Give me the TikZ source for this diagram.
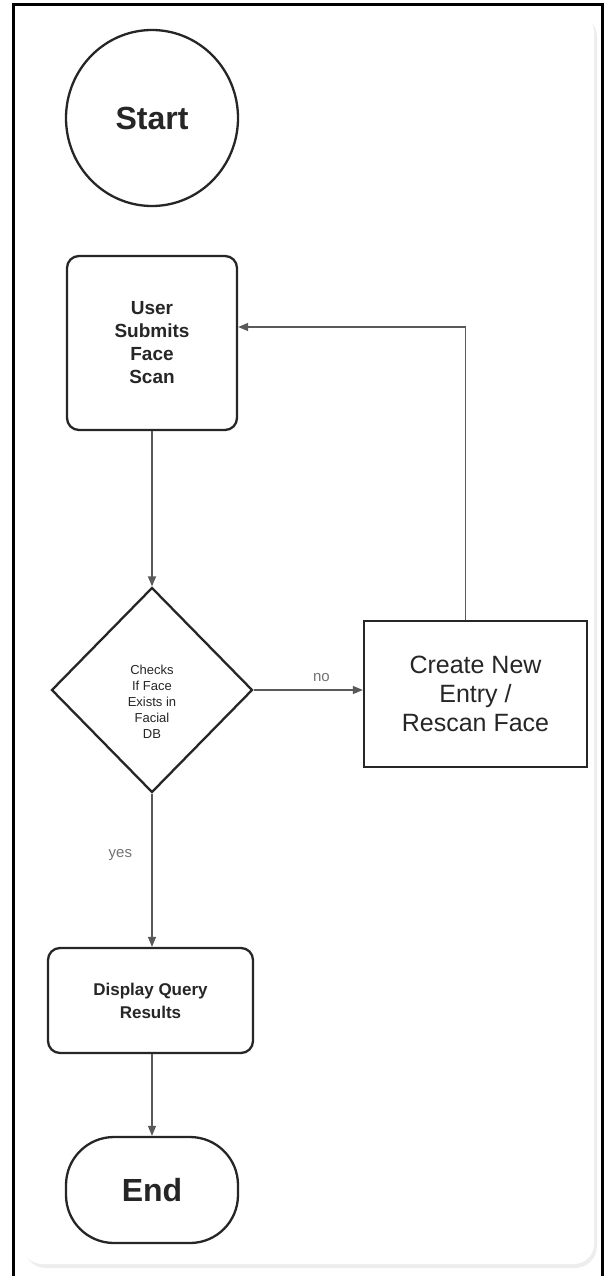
\documentclass[tikz,border=0pt]{standalone}
\usepackage{fontspec}
\setmainfont{Liberation Sans}
\usetikzlibrary{shapes.geometric,arrows.meta}

\begin{document}
\begin{tikzpicture}[x=1pt,y=-1pt,
  nodeline/.style={draw=black!85, line width=2.3pt, inner sep=0pt, align=center, text=black!85},
  conn/.style={draw=black!65, line width=1.3pt, -{Triangle[length=10pt,width=8pt]}},
  lbl/.style={text=black!55, font=\fontsize{15}{17}\selectfont}]
\useasboundingbox (0,0) rectangle (609,1276);
\fill[white] (0,0) rectangle (609,1276);
% card with soft shadow
\fill[black!7, rounded corners=22pt] (24,15) rectangle (597,1268);
\fill[white, rounded corners=20pt] (22,12) rectangle (594,1264);
% outer frame
\draw[line width=3pt] (13.5,1276) -- (13.5,5) -- (602.5,5) -- (602.5,1276);

\node[nodeline, ellipse, minimum width=172pt, minimum height=176pt,
  font=\fontsize{32}{36}\selectfont\bfseries] (start) at (152,118) {Start};

\node[nodeline, rectangle, rounded corners=12pt, minimum width=170pt, minimum height=174pt,
  font=\fontsize{19}{23}\selectfont\bfseries] (user) at (152,343) {User\\Submits\\Face\\Scan};

\node[nodeline, diamond, minimum width=201pt, minimum height=205pt] (dec) at (152,690) {};
\node[align=center, inner sep=0pt, text=black!85, font=\fontsize{13}{16}\selectfont]
  (dectext) at ([yshift=-12pt]dec.center) {Checks\\If Face\\Exists in\\Facial\\DB};

\node[nodeline, rectangle, minimum width=223pt, minimum height=146pt,
  font=\fontsize{25}{29}\selectfont] (create) at (475.5,694) {Create New\\Entry /\\Rescan Face};

\node[nodeline, rectangle, rounded corners=12pt, minimum width=205pt, minimum height=105pt,
  font=\fontsize{17}{23}\selectfont\bfseries] (disp) at (150.5,1000.5) {Display Query\\Results};

\node[nodeline, rectangle, rounded corners=48pt, minimum width=172pt, minimum height=106pt,
  font=\fontsize{32}{36}\selectfont\bfseries] (end) at (152,1190) {End};

\draw[conn] (user.south) -- (dec.north);
\draw[conn] (dec.east) -- node[lbl, pos=0.62, above=4pt] {no} (dec.east -| create.west);
\draw[conn] ([xshift=-10pt]create.north) |- ([yshift=16pt]user.east);
\draw[conn] (dec.south) -- node[lbl, pos=0.4, left=16pt] {yes} (disp.north -| dec.south);
\draw[conn] (disp.south -| end.north) -- (end.north);
\end{tikzpicture}
\end{document}
